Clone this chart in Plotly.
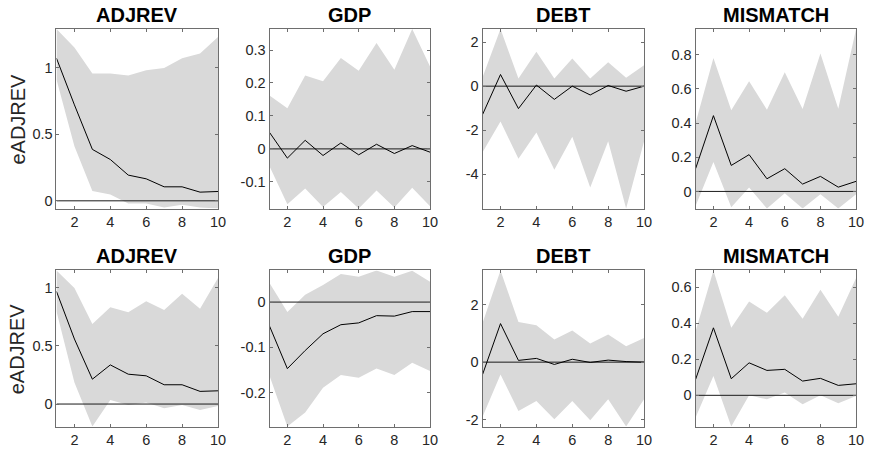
import plotly.graph_objects as go

# ---------------- data ----------------
horizon = [1, 2, 3, 4, 5, 6, 7, 8, 9, 10]
x_tick_vals = [2, 4, 6, 8, 10]
x_tick_text = ["2", "4", "6", "8", "10"]

panel_titles = ["ADJREV", "GDP", "DEBT", "MISMATCH",
                "ADJREV", "GDP", "DEBT", "MISMATCH"]
shock_label = "eADJREV"

# top row
adjrev_top_irf = [1.07, 0.72, 0.386, 0.31, 0.193, 0.165, 0.105, 0.105, 0.065, 0.07]
adjrev_top_up = [1.29, 1.15, 0.955, 0.955, 0.94, 0.98, 0.997, 1.07, 1.105, 1.23]
adjrev_top_lo = [0.91, 0.41, 0.073, 0.048, -0.02, -0.02, -0.05, -0.03, -0.05, -0.058]

gdp_top_irf = [0.05, -0.028, 0.026, -0.02, 0.018, -0.018, 0.014, -0.014, 0.01, -0.01]
gdp_top_up = [0.162, 0.123, 0.223, 0.205, 0.276, 0.237, 0.321, 0.24, 0.364, 0.25]
gdp_top_lo = [-0.053, -0.168, -0.12, -0.176, -0.131, -0.181, -0.126, -0.178, -0.118, -0.174]

debt_top_irf = [-1.29, 0.53, -1.02, 0.05, -0.6, 0.0, -0.4, 0.03, -0.23, 0.0]
debt_top_up = [0.4, 2.6, 0.35, 1.56, 0.35, 1.26, 0.35, 1.09, 0.38, 0.95]
debt_top_lo = [-3.0, -1.6, -3.3, -2.1, -3.8, -2.3, -4.6, -2.5, -5.56, -2.5]

mism_top_irf = [0.133, 0.443, 0.152, 0.215, 0.074, 0.133, 0.043, 0.088, 0.025, 0.059]
mism_top_up = [0.4, 0.78, 0.474, 0.644, 0.478, 0.697, 0.482, 0.806, 0.484, 0.95]
mism_top_lo = [-0.085, 0.172, -0.092, 0.023, -0.10, -0.01, -0.10, -0.016, -0.10, -0.016]

# bottom row
adjrev_bot_irf = [0.97, 0.56, 0.214, 0.337, 0.257, 0.243, 0.166, 0.166, 0.109, 0.114]
adjrev_bot_up = [1.151, 1.0, 0.69, 0.834, 0.79, 0.886, 0.81, 0.95, 0.82, 1.086]
adjrev_bot_lo = [0.8, 0.186, -0.194, 0.034, -0.009, 0.014, -0.037, -0.009, -0.051, -0.017]

gdp_bot_irf = [-0.053, -0.147, -0.107, -0.07, -0.05, -0.046, -0.03, -0.031, -0.021, -0.021]
gdp_bot_up = [0.042, -0.022, 0.016, 0.038, 0.062, 0.056, 0.07, 0.056, 0.069, 0.045]
gdp_bot_lo = [-0.163, -0.275, -0.244, -0.189, -0.161, -0.167, -0.147, -0.161, -0.134, -0.152]

debt_bot_irf = [-0.43, 1.34, 0.06, 0.13, -0.08, 0.1, -0.01, 0.07, 0.02, 0.0]
debt_bot_up = [1.36, 3.19, 1.4, 1.28, 0.79, 1.1, 0.65, 0.96, 0.55, 0.84]
debt_bot_lo = [-1.9, -0.43, -1.7, -1.35, -1.99, -1.35, -2.02, -1.29, -2.24, -1.29]

mism_bot_irf = [0.088, 0.374, 0.092, 0.18, 0.138, 0.144, 0.079, 0.094, 0.055, 0.064]
mism_bot_up = [0.355, 0.692, 0.374, 0.52, 0.457, 0.554, 0.424, 0.585, 0.435, 0.65]
mism_bot_lo = [-0.123, 0.107, -0.173, 0.0, -0.022, 0.015, -0.05, 0.0, -0.044, -0.004]

y_tick_vals = [
    [0, 0.5, 1], [-0.1, 0, 0.1, 0.2, 0.3], [-4, -2, 0, 2], [0, 0.2, 0.4, 0.6, 0.8],
    [0, 0.5, 1], [-0.2, -0.1, 0], [-2, 0, 2], [0, 0.2, 0.4, 0.6],
]
y_tick_text = [
    ["0", "0.5", "1"], ["-0.1", "0", "0.1", "0.2", "0.3"], ["-4", "-2", "0", "2"],
    ["0", "0.2", "0.4", "0.6", "0.8"],
    ["0", "0.5", "1"], ["-0.2", "-0.1", "0"], ["-2", "0", "2"], ["0", "0.2", "0.4", "0.6"],
]

irfs = [adjrev_top_irf, gdp_top_irf, debt_top_irf, mism_top_irf,
        adjrev_bot_irf, gdp_bot_irf, debt_bot_irf, mism_bot_irf]
uppers = [adjrev_top_up, gdp_top_up, debt_top_up, mism_top_up,
          adjrev_bot_up, gdp_bot_up, debt_bot_up, mism_bot_up]
lowers = [adjrev_top_lo, gdp_top_lo, debt_top_lo, mism_top_lo,
          adjrev_bot_lo, gdp_bot_lo, debt_bot_lo, mism_bot_lo]

# ---------------- layout ----------------
W, H = 876, 454
col_px = [(57, 220), (272, 434), (487, 650), (702, 864)]
row_px = [(29, 209), (271, 427.5)]

FONT = "Arial, Liberation Sans, Helvetica, sans-serif"
AX_COLOR = "#6e6e6e"
TXT_COLOR = "#262626"
FILL = "rgb(217,217,217)"

fig = go.Figure()
layout = dict(
    width=W, height=H,
    margin=dict(l=0, r=0, t=0, b=0),
    paper_bgcolor="white", plot_bgcolor="white",
    showlegend=False,
    font=dict(family=FONT, size=14, color=TXT_COLOR),
)
annotations = []

for i in range(8):
    r, c = divmod(i, 4)
    n = i + 1
    xa = "x" if n == 1 else f"x{n}"
    ya = "y" if n == 1 else f"y{n}"
    fig.add_trace(go.Scatter(
        x=horizon + horizon[::-1], y=uppers[i] + lowers[i][::-1],
        fill="toself", fillcolor=FILL, line=dict(width=0), mode="lines",
        hoverinfo="skip", xaxis=xa, yaxis=ya))
    fig.add_trace(go.Scatter(
        x=[horizon[0], horizon[-1]], y=[0, 0], mode="lines",
        line=dict(color="#1a1a1a", width=1), xaxis=xa, yaxis=ya))
    fig.add_trace(go.Scatter(
        x=horizon, y=irfs[i], mode="lines",
        line=dict(color="#000000", width=1), xaxis=xa, yaxis=ya))

    x0, x1 = col_px[c]
    t0, t1 = row_px[r]
    ymin = min(lowers[i])
    ymax = max(uppers[i])
    axis_common = dict(
        showline=True, linecolor=AX_COLOR, linewidth=1, mirror="ticks",
        ticks="inside", ticklen=3, tickcolor=AX_COLOR, tickwidth=1,
        showgrid=False, zeroline=False,
        tickfont=dict(family=FONT, size=14.5, color=TXT_COLOR),
    )
    layout["xaxis" if n == 1 else f"xaxis{n}"] = dict(
        axis_common, domain=[x0 / W, x1 / W], range=[horizon[0], horizon[-1]],
        tickvals=x_tick_vals, ticktext=x_tick_text, anchor=ya,
    )
    layout["yaxis" if n == 1 else f"yaxis{n}"] = dict(
        axis_common, domain=[1 - t1 / H, 1 - t0 / H], range=[ymin, ymax],
        tickvals=y_tick_vals[i], ticktext=y_tick_text[i], anchor=xa,
    )
    annotations.append(dict(
        text=f"<b>{panel_titles[i]}</b>", x=(x0 + x1) / 2 / W,
        y=1 - (t0 - 14) / H, xref="paper", yref="paper",
        xanchor="center", yanchor="middle", showarrow=False,
        font=dict(family=FONT, size=20, color="#000000")))

for r in range(2):
    t0, t1 = row_px[r]
    annotations.append(dict(
        text=shock_label, x=18 / W, y=1 - (t0 + t1) / 2 / H,
        xref="paper", yref="paper", xanchor="center", yanchor="middle",
        textangle=-90, showarrow=False,
        font=dict(family=FONT, size=20, color=TXT_COLOR)))

layout["annotations"] = annotations
fig.update_layout(**layout)
fig.write_html("out.html",
               config={"displayModeBar": False, "staticPlot": True},
               post_script="document.body.style.margin='0';"
                           "document.body.style.overflow='hidden';")
